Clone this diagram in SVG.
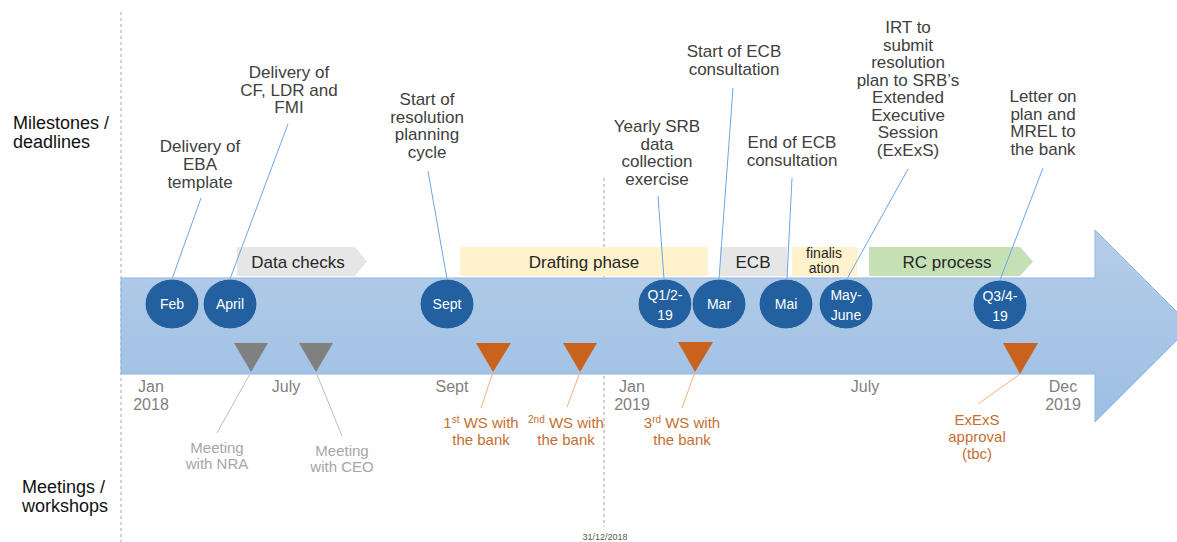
<svg xmlns="http://www.w3.org/2000/svg" width="1177" height="542" viewBox="0 0 1177 542">
<defs>
<linearGradient id="ag" x1="0" y1="0" x2="0" y2="1">
<stop offset="0" stop-color="#b5cde9"/>
<stop offset="1" stop-color="#9dbfe4"/>
</linearGradient>
<style>
text{font-family:"Liberation Sans",Arial,sans-serif;text-anchor:middle}
.top{font-size:17px;fill:#404040}
.side{font-size:18px;fill:#111;text-anchor:start}
.axis{font-size:16px;fill:#7f7f7f}
.grey{font-size:15px;fill:#a6a6a6}
.org{font-size:15px;fill:#c66f33}
.sup{font-size:10px}
.circ{fill:#22609f;stroke:#b3cce8;stroke-width:1}
.ct{font-size:14px;fill:#ffffff}
.ph{font-size:17px;fill:#262626}
.bl{stroke:#6aa6e8;stroke-width:1;fill:none}
.gl{stroke:#bfbfbf;stroke-width:1;fill:none}
.ol{stroke:#f4b183;stroke-width:1;fill:none}
.dash{stroke:#a6a6a6;stroke-width:1;stroke-dasharray:3 3;fill:none}
.tg{fill:#808080}
.to{fill:#c9621d}
</style>
</defs>
<rect width="1177" height="542" fill="#ffffff"/>

<g id="guides">
<line class="dash" x1="121" y1="12" x2="121" y2="542"/>
<line class="dash" x1="604" y1="178" x2="604" y2="527"/>
<text x="605" y="540" style="font-size:9px;fill:#595959">31/12/2018</text>
</g>

<g id="side-labels">
<text class="side" x="13" y="129">Milestones /</text>
<text class="side" x="13" y="148">deadlines</text>
<text class="side" x="22" y="493">Meetings /</text>
<text class="side" x="22" y="512">workshops</text>
</g>

<g id="timeline-arrow">
<path d="M121,278 H1095 V230 L1191,326 L1095,422 V374 H121 Z" fill="url(#ag)" stroke="#8fb5e2" stroke-width="1"/>
</g>

<g id="phases">
<g id="phase-data-checks">
<path d="M237,247 H355 L367,261.5 L355,276 H237 Z" fill="#e7e6e6"/>
<text class="ph" x="298" y="268">Data checks</text>
</g>
<g id="phase-drafting">
<rect x="460" y="247" width="248" height="29" fill="#fff2cc"/>
<text class="ph" x="584" y="268">Drafting phase</text>
</g>
<g id="phase-ecb">
<rect x="720" y="247" width="67" height="29" fill="#e7e6e6"/>
<text class="ph" x="753" y="268">ECB</text>
</g>
<g id="phase-finalisation">
<rect x="792" y="247" width="65" height="29" fill="#fff2cc"/>
<text x="824" y="258" style="font-size:14px;fill:#262626">finalis</text>
<text x="824" y="273" style="font-size:14px;fill:#262626">ation</text>
</g>
<g id="phase-rc">
<path d="M869,247 H1020 L1033,261.5 L1020,276 H869 Z" fill="#c5e0b4"/>
<text class="ph" x="947" y="268">RC process</text>
</g>
</g>

<g id="connectors">
<line class="bl" x1="201" y1="198" x2="172" y2="279"/>
<line class="bl" x1="288" y1="124" x2="230" y2="279"/>
<line class="bl" x1="428" y1="171" x2="447" y2="279"/>
<line class="bl" x1="658" y1="196" x2="664" y2="279"/>
<line class="bl" x1="733" y1="88" x2="719" y2="279"/>
<line class="bl" x1="792" y1="178" x2="787" y2="279"/>
<line class="bl" x1="908" y1="169" x2="847" y2="279"/>
<line class="bl" x1="1043" y1="168" x2="1000" y2="280"/>
<line class="gl" x1="251" y1="372" x2="217" y2="433"/>
<line class="gl" x1="316" y1="372" x2="342" y2="436"/>
<line class="ol" x1="493" y1="372" x2="481" y2="408"/>
<line class="ol" x1="580" y1="372" x2="567" y2="407"/>
<line class="ol" x1="695" y1="372" x2="682" y2="408"/>
<line class="ol" x1="1020" y1="374" x2="978" y2="404"/>
</g>

<g id="milestone-labels">
<text class="top" x="200"><tspan x="200" y="152">Delivery of</tspan><tspan x="200" y="170">EBA</tspan><tspan x="200" y="188">template</tspan></text>
<text class="top"><tspan x="289" y="78">Delivery of</tspan><tspan x="289" y="96">CF, LDR and</tspan><tspan x="289" y="113">FMI</tspan></text>
<text class="top"><tspan x="427" y="105">Start of</tspan><tspan x="427" y="123">resolution</tspan><tspan x="427" y="140">planning</tspan><tspan x="427" y="158">cycle</tspan></text>
<text class="top"><tspan x="657" y="132">Yearly SRB</tspan><tspan x="657" y="150">data</tspan><tspan x="657" y="167">collection</tspan><tspan x="657" y="185">exercise</tspan></text>
<text class="top"><tspan x="734" y="57">Start of ECB</tspan><tspan x="734" y="75">consultation</tspan></text>
<text class="top"><tspan x="792" y="148">End of ECB</tspan><tspan x="792" y="166">consultation</tspan></text>
<text class="top"><tspan x="908" y="33">IRT to</tspan><tspan x="908" y="51">submit</tspan><tspan x="908" y="68">resolution</tspan><tspan x="908" y="86">plan to SRB’s</tspan><tspan x="908" y="103">Extended</tspan><tspan x="908" y="121">Executive</tspan><tspan x="908" y="138">Session</tspan><tspan x="908" y="156">(ExExS)</tspan></text>
<text class="top"><tspan x="1043" y="102">Letter on</tspan><tspan x="1043" y="120">plan and</tspan><tspan x="1043" y="137">MREL to</tspan><tspan x="1043" y="155">the bank</tspan></text>
</g>

<g id="milestones">
<g id="m-feb"><ellipse class="circ" cx="172" cy="304" rx="27" ry="25"/><text class="ct" x="172" y="309">Feb</text></g>
<g id="m-april"><ellipse class="circ" cx="230" cy="304" rx="27" ry="25"/><text class="ct" x="230" y="309">April</text></g>
<g id="m-sept"><ellipse class="circ" cx="447" cy="304" rx="27" ry="25"/><text class="ct" x="447" y="309">Sept</text></g>
<g id="m-q12"><ellipse class="circ" cx="665" cy="304" rx="27" ry="25"/><text class="ct" x="665" y="300">Q1/2-</text><text class="ct" x="665" y="320">19</text></g>
<g id="m-mar"><ellipse class="circ" cx="719" cy="304" rx="27" ry="25"/><text class="ct" x="719" y="309">Mar</text></g>
<g id="m-mai"><ellipse class="circ" cx="786" cy="304" rx="27" ry="25"/><text class="ct" x="786" y="309">Mai</text></g>
<g id="m-mayjune"><ellipse class="circ" cx="846" cy="304" rx="27" ry="25"/><text class="ct" x="846" y="300">May-</text><text class="ct" x="846" y="320">June</text></g>
<g id="m-q34"><ellipse class="circ" cx="1000" cy="305" rx="27" ry="25"/><text class="ct" x="1000" y="301">Q3/4-</text><text class="ct" x="1000" y="321">19</text></g>
</g>

<g id="meetings">
<g id="w-nra"><path class="tg" d="M234,343 H268 L251,372 Z"/><text class="grey"><tspan x="217" y="453">Meeting</tspan><tspan x="217" y="469">with NRA</tspan></text></g>
<g id="w-ceo"><path class="tg" d="M299,343 H333 L316,372 Z"/><text class="grey"><tspan x="342" y="456">Meeting</tspan><tspan x="342" y="472">with CEO</tspan></text></g>
<g id="w-1"><path class="to" d="M476,343 H511 L493,372 Z"/><text class="org"><tspan x="481" y="428">1<tspan class="sup" dy="-5">st</tspan><tspan dy="5"> WS with</tspan></tspan><tspan x="481" y="445">the bank</tspan></text></g>
<g id="w-2"><path class="to" d="M563,343 H597 L580,372 Z"/><text class="org"><tspan x="566" y="428"><tspan class="sup" dy="-5">2nd</tspan><tspan dy="5"> WS with</tspan></tspan><tspan x="566" y="445">the bank</tspan></text></g>
<g id="w-3"><path class="to" d="M678,342 H713 L695,372 Z"/><text class="org"><tspan x="682" y="428">3<tspan class="sup" dy="-5">rd</tspan><tspan dy="5"> WS with</tspan></tspan><tspan x="682" y="445">the bank</tspan></text></g>
<g id="w-exexs"><path class="to" d="M1003,343 H1038 L1020,374 Z"/><text class="org"><tspan x="977" y="425">ExExS</tspan><tspan x="977" y="442">approval</tspan><tspan x="977" y="459">(tbc)</tspan></text></g>
</g>

<g id="axis-labels">
<text class="axis"><tspan x="151" y="392">Jan</tspan><tspan x="151" y="410">2018</tspan></text>
<text class="axis" x="286" y="392">July</text>
<text class="axis" x="452" y="392">Sept</text>
<text class="axis"><tspan x="632" y="392">Jan</tspan><tspan x="632" y="410">2019</tspan></text>
<text class="axis" x="865" y="392">July</text>
<text class="axis"><tspan x="1063" y="392">Dec</tspan><tspan x="1063" y="410">2019</tspan></text>
</g>
</svg>
